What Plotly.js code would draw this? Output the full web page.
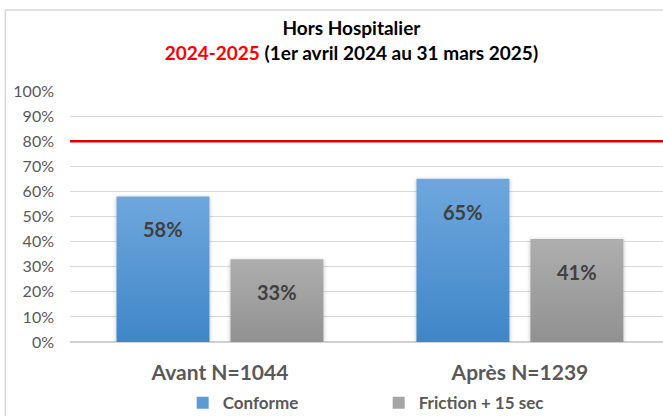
<!DOCTYPE html>
<html>
<head>
<meta charset="utf-8">
<script src="https://cdn.plot.ly/plotly-3.0.1.min.js"></script>
<style>html,body{margin:0;padding:0;background:#fff;}#chart{width:663px;height:416px;}</style>
</head>
<body>
<div id="chart"></div>
<script>
const categories = ["Avant N=1044", "Après N=1239"];
const seriesNames = ["Conforme", "Friction + 15 sec"];
const conforme = [0.58, 0.65];
const friction = [0.33, 0.41];
const target = 0.80;
const yTickVals = [0, 0.1, 0.2, 0.3, 0.4, 0.5, 0.6, 0.7, 0.8, 0.9, 1.0];

const FONT = "Lato, 'Open Sans', sans-serif";
const xIdx = categories.map((c, i) => i);
const barW = 0.31;
const offs = [-0.345, 0.035];

const traces = [
  {type: 'bar', name: seriesNames[0], x: xIdx, y: conforme, width: barW, offset: offs[0],
   marker: {color: '#5b9bd5', line: {width: 0}}, hoverinfo: 'skip'},
  {type: 'bar', name: seriesNames[1], x: xIdx, y: friction, width: barW, offset: offs[1],
   marker: {color: '#a5a5a5', line: {width: 0}}, hoverinfo: 'skip'}
];

const annotations = [];
[conforme, friction].forEach((arr, s) => {
  arr.forEach((v, i) => {
    annotations.push({
      x: i + offs[s] + barW / 2, y: v, xref: 'x', yref: 'y',
      text: '<b>' + Math.round(v * 100) + '%</b>', showarrow: false,
      yanchor: 'middle', yshift: -33,
      font: {family: FONT, size: 20, color: '#404040'}
    });
  });
});

const layout = {
  width: 663, height: 416,
  margin: {l: 70, r: 0, t: 91, b: 74},
  paper_bgcolor: '#fff', plot_bgcolor: '#fff',
  font: {family: FONT, color: '#595959'},
  title: {
    text: '<b>Hors Hospitalier</b><br><b><span style="color:#ff0000">2024-2025</span> (1er avril 2024 au 31 mars 2025)</b>',
    font: {family: FONT, size: 19, color: '#000'},
    x: 0.53, xanchor: 'center', y: 0.915, yanchor: 'top', yref: 'container'
  },
  barmode: 'overlay',
  showlegend: true,
  legend: {
    orientation: 'h', x: 0.19, xanchor: 'left', y: 0.074, yanchor: 'top', yref: 'container',
    entrywidth: 151, entrywidthmode: 'pixels', itemwidth: 30,
    font: {family: FONT, size: 17, color: '#595959', weight: 'bold'},
    bgcolor: 'rgba(0,0,0,0)'
  },
  xaxis: {
    type: 'linear', range: [-0.5, 1.477], tickvals: xIdx, ticktext: categories,
    showgrid: false, zeroline: false, showline: false, ticks: '',
    ticklabelstandoff: 16,
    tickfont: {family: FONT, size: 21, color: '#595959', weight: 'bold'}
  },
  yaxis: {
    range: [0, 1], tickvals: yTickVals, tickformat: '.0%',
    showgrid: true, gridcolor: '#d9d9d9', gridwidth: 1,
    zeroline: true, zerolinecolor: '#d0d0d0', zerolinewidth: 2,
    showline: false, ticks: '', ticklabelstandoff: 15,
    tickfont: {family: FONT, size: 16, color: '#595959'}
  },
  shapes: [
    {type: 'line', xref: 'paper', yref: 'y', x0: 0, x1: 1, y0: target, y1: target,
     line: {color: '#e00000', width: 2.5}, layer: 'above'},
    {type: 'rect', xref: 'paper', yref: 'paper', x0: -0.109, x1: 1.2, y0: -0.6, y1: 1.323,
     line: {color: '#d9d9d9', width: 1.5}, fillcolor: 'rgba(0,0,0,0)', layer: 'below'}
  ],
  annotations: annotations
};

Plotly.newPlot('chart', traces, layout, {staticPlot: true, displayModeBar: false}).then(gd => {
  const svg = gd.querySelector('svg.main-svg');
  const ns = 'http://www.w3.org/2000/svg';
  const defs = document.createElementNS(ns, 'defs');
  defs.innerHTML =
    '<linearGradient id="gBlue" x1="0" y1="0" x2="0" y2="1"><stop offset="0" stop-color="#6fa7dd"/><stop offset="1" stop-color="#3f86c8"/></linearGradient>' +
    '<linearGradient id="gGray" x1="0" y1="0" x2="0" y2="1"><stop offset="0" stop-color="#aeaeae"/><stop offset="1" stop-color="#919191"/></linearGradient>' +
    '<filter id="shd" x="-20%" y="-20%" width="140%" height="140%"><feDropShadow dx="0" dy="1" stdDeviation="2" flood-color="#000" flood-opacity="0.25"/></filter>';
  svg.insertBefore(defs, svg.firstChild);
  const ids = ['gBlue', 'gGray'];
  gd.querySelectorAll('.barlayer .trace').forEach((t, i) => {
    t.querySelectorAll('path').forEach(p => {
      p.style.fill = 'url(#' + ids[i] + ')';
      p.style.filter = 'url(#shd)';
    });
  });
});
</script>
</body>
</html>
